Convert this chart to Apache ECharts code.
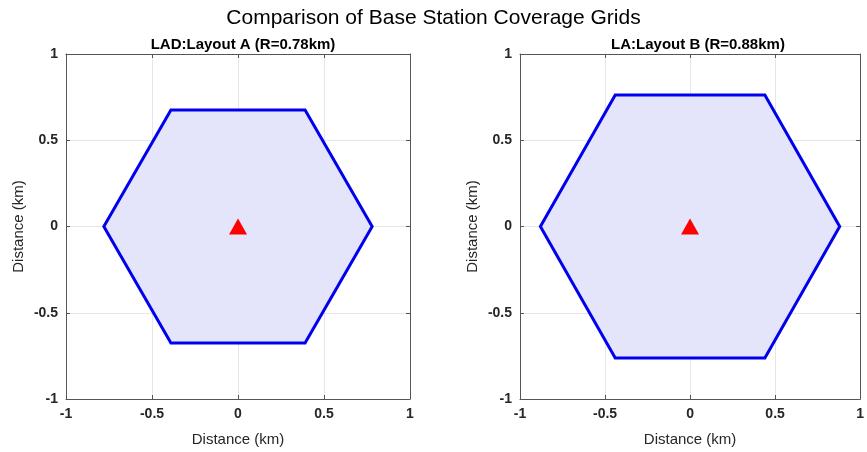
<!DOCTYPE html>
<html><head><meta charset="utf-8">
<script src="https://cdn.jsdelivr.net/npm/echarts@6/dist/echarts.min.js"></script>
<style>html,body{margin:0;padding:0;background:#fff}#c{width:867px;height:452px}</style>
</head><body><div id="c"></div>
<script>
const tickLabels = [-1, -0.5, 0, 0.5, 1];
const titleA = 'LAD:Layout A (R=0.78km)';
const titleB = 'LA:Layout B (R=0.88km)';
const hexAx = [0.78, 0.39, -0.39, -0.78, -0.39, 0.39];
const hexAy = [0, 0.675, 0.675, 0, -0.675, -0.675];
const hexBx = [0.88, 0.44, -0.44, -0.88, -0.44, 0.44];
const hexBy = [0, 0.762, 0.762, 0, -0.762, -0.762];
const stationX = [0];
const stationY = [0];

const chart = echarts.init(document.getElementById('c'));
const FONT = 'Liberation Sans, Arial, sans-serif';
const grids = [
  {left: 66, top: 54, width: 344, height: 345},
  {left: 520, top: 54, width: 346, height: 345}
];
function mkAxis(idx, isX){
  return {
    type: 'value', gridIndex: idx, min: -1, max: 1, interval: 0.5,
    name: 'Distance (km)', nameLocation: 'middle',
    nameGap: isX ? 33 : 40,
    nameTextStyle: {fontFamily: FONT, fontSize: 15, color: '#262626'},
    axisLine: {show: true, onZero: false, lineStyle: {color: '#555', width: 1}},
    axisTick: {show: true, inside: true, length: 4, lineStyle: {color: '#555'}},
    axisLabel: {fontFamily: FONT, fontSize: 14, fontWeight: 'bold', color: '#262626', margin: 8,
      formatter: v => String(v)},
    splitLine: {show: true, lineStyle: {color: '#e6e6e6', width: 1}}
  };
}
function mkBoxX(idx){
  return {type:'value', gridIndex: idx, position: 'top', min:-1, max:1, interval:0.5,
    axisLine:{show:true,onZero:false,lineStyle:{color:'#555'}}, axisTick:{show:true,inside:true,length:4,lineStyle:{color:'#555'}},
    axisLabel:{show:false}, splitLine:{show:false}};
}
function mkBoxY(idx){
  return {type:'value', gridIndex: idx, position: 'right', min:-1, max:1, interval:0.5,
    axisLine:{show:true,onZero:false,lineStyle:{color:'#555'}}, axisTick:{show:true,inside:true,length:4,lineStyle:{color:'#555'}},
    axisLabel:{show:false}, splitLine:{show:false}};
}
function hexSeries(xs, ys, gi){
  const data = xs.map((x,i)=>[x, ys[i]]);
  return {
    type: 'custom', xAxisIndex: gi*2, yAxisIndex: gi*2,
    data: [0],
    renderItem: function(params, api){
      const pts = data.map(p => api.coord(p));
      return {type:'polygon', shape:{points: pts},
        style:{fill:'rgb(228,228,250)', stroke:'#0000ee', lineWidth:3, lineJoin:'miter'}};
    },
    silent: true, z: 2
  };
}
function stationSeries(gi){
  return {type:'scatter', xAxisIndex: gi*2, yAxisIndex: gi*2,
    data: stationX.map((x,i)=>[x, stationY[i]]),
    symbol:'triangle', symbolSize:[18,16], itemStyle:{color:'#ff0000', opacity:1}, z: 5};
}
chart.setOption({
  animation: false,
  title: [
    {text:'Comparison of Base Station Coverage Grids', left:'center', top:3,
      textStyle:{fontFamily:FONT, fontSize:21, fontWeight:'normal', color:'#000'}},
    {text:titleA, left: 66+172, textAlign:'center', top:32,
      textStyle:{fontFamily:FONT, fontSize:15, fontWeight:'bold', color:'#000'}},
    {text:titleB, left: 520+173, textAlign:'center', top:32,
      textStyle:{fontFamily:FONT, fontSize:15, fontWeight:'bold', color:'#000'}}
  ],
  grid: grids,
  xAxis: [mkAxis(0,true), mkBoxX(0), mkAxis(1,true), mkBoxX(1)],
  yAxis: [mkAxis(0,false), mkBoxY(0), mkAxis(1,false), mkBoxY(1)],
  series: [hexSeries(hexAx, hexAy, 0), stationSeries(0), hexSeries(hexBx, hexBy, 1), stationSeries(1)]
});
</script></body></html>
